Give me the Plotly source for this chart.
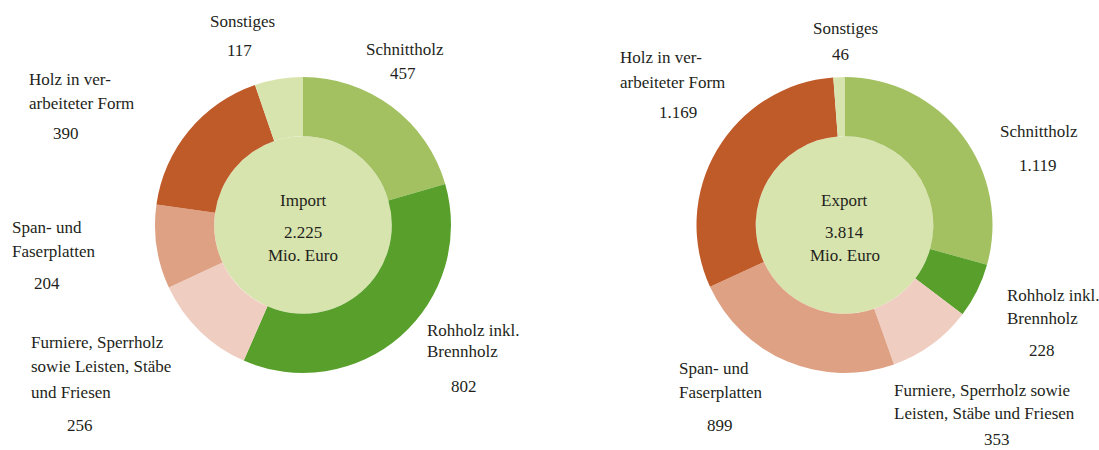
import plotly.graph_objects as go

# Holzhandel nach Warengruppen, Mio. Euro
categories = [
    "Schnittholz",
    "Rohholz inkl. Brennholz",
    "Furniere, Sperrholz sowie Leisten, Stäbe und Friesen",
    "Span- und Faserplatten",
    "Holz in verarbeiteter Form",
    "Sonstiges",
]
import_values = [457, 802, 256, 204, 390, 117]
export_values = [1119, 228, 353, 899, 1169, 46]
import_total = 2225
export_total = 3814

# Beschriftungszeilen je Warengruppe
import_label_lines = [
    ["Schnittholz"],
    ["Rohholz inkl.", "Brennholz"],
    ["Furniere, Sperrholz", "sowie Leisten, Stäbe", "und Friesen"],
    ["Span- und", "Faserplatten"],
    ["Holz in ver-", "arbeiteter Form"],
    ["Sonstiges"],
]
export_label_lines = [
    ["Schnittholz"],
    ["Rohholz inkl.", "Brennholz"],
    ["Furniere, Sperrholz sowie", "Leisten, Stäbe und Friesen"],
    ["Span- und", "Faserplatten"],
    ["Holz in ver-", "arbeiteter Form"],
    ["Sonstiges"],
]

colors = ["#A3C161", "#58A02B", "#F0CDC1", "#DEA184", "#BF5A29", "#D8E4AE"]
center_fill = "#D8E4AE"
text_color = "#231F20"
FONT = "Liberation Serif, DejaVu Serif, serif"
FS = 17

W, H = 1099, 450
R = 148
HOLE = 0.6

# Layout of label lines (pixel positions): (x, anchor, [line y...], value x, value y)
import_label_pos = [
    (405, "center", [49], 403, 73),
    (425, "left", [330, 351], 464, 386),
    (29, "left", [342, 366, 392], 80, 425),
    (10, "left", [227, 251], 47, 283),
    (27, "left", [79, 103], 66, 133),
    (242, "center", [22], 239, 50),
]
export_label_pos = [
    (1039, "center", [131], 1038, 166),
    (1005, "left", [295, 318], 1042, 350),
    (892, "left", [390, 413], 997, 439),
    (677, "left", [368, 392], 720, 425),
    (618, "left", [57, 82], 678, 113),
    (845, "center", [29], 840, 54),
]


def fmt(v):
    return f"{v:,}".replace(",", ".")


def px_x(x):
    return x / W


def px_y(y):
    return 1 - y / H


fig = go.Figure()
annotations = []
shapes = []

charts = [
    (303, 225, import_values, import_total, "Import", import_label_lines, import_label_pos),
    (844.5, 225, export_values, export_total, "Export", export_label_lines, export_label_pos),
]

for cx, cy, values, total, title, label_lines, label_pos in charts:
    fig.add_trace(go.Pie(
        labels=categories,
        values=values,
        sort=False,
        direction="clockwise",
        rotation=0,
        hole=HOLE,
        textinfo="none",
        hoverinfo="label+value",
        marker=dict(colors=colors, line=dict(width=0)),
        domain=dict(x=[px_x(cx - R), px_x(cx + R)],
                    y=[px_y(cy + R), px_y(cy - R)]),
        showlegend=False,
    ))
    # filled centre disc inside the ring
    r_in = R * HOLE
    shapes.append(dict(
        type="circle", xref="paper", yref="paper", layer="below",
        x0=px_x(cx - r_in), x1=px_x(cx + r_in),
        y0=px_y(cy + r_in), y1=px_y(cy - r_in),
        fillcolor=center_fill, line=dict(width=0),
    ))
    for text, y in zip([title, fmt(total), "Mio. Euro"], [200, 232, 255]):
        annotations.append(dict(
            text=text, x=px_x(cx), y=px_y(y), xref="paper", yref="paper",
            xanchor="center", yanchor="middle", showarrow=False,
            font=dict(family=FONT, size=FS, color=text_color),
        ))
    for lines, v, (lx, anchor, ys, vx, vy) in zip(label_lines, values, label_pos):
        for line, y in zip(lines, ys):
            annotations.append(dict(
                text=line, x=px_x(lx), y=px_y(y), xref="paper", yref="paper",
                xanchor=anchor, yanchor="middle", showarrow=False,
                font=dict(family=FONT, size=FS, color=text_color),
            ))
        annotations.append(dict(
            text=fmt(v), x=px_x(vx), y=px_y(vy), xref="paper", yref="paper",
            xanchor="center", yanchor="middle", showarrow=False,
            font=dict(family=FONT, size=FS, color=text_color),
        ))

fig.update_layout(
    width=W, height=H, autosize=False,
    margin=dict(l=0, r=0, t=0, b=0),
    paper_bgcolor="white", plot_bgcolor="white",
    annotations=annotations, shapes=shapes,
)

fig.write_html("out.html")
